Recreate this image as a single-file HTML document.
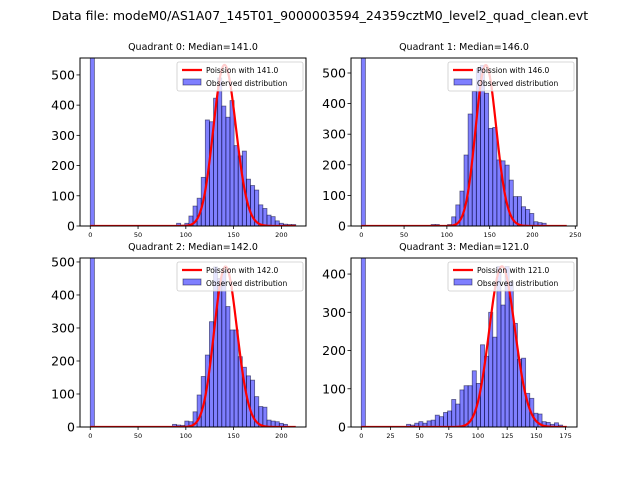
<!DOCTYPE html>
<html><head><meta charset="utf-8"><style>
body{margin:0;background:#fff}
svg{display:block;font-family:"DejaVu Sans","Liberation Sans",sans-serif}
</style></head><body>
<svg id="fig" width="640" height="480" viewBox="0 0 640 480" xmlns="http://www.w3.org/2000/svg">
<rect width="640" height="480" fill="#fff"/>
<text x="320" y="20" font-size="12.5" text-anchor="middle">Data file: modeM0/AS1A07_145T01_9000003594_24359cztM0_level2_quad_clean.evt</text>
</svg>
<script>
// ---- data ----
const quadTitles = ["Quadrant 0: Median=141.0","Quadrant 1: Median=146.0","Quadrant 2: Median=142.0","Quadrant 3: Median=121.0"];
const medians = [141.0, 146.0, 142.0, 121.0];
const dataMax = [215, 240, 215, 176];
const yMaxLim = [556, 549, 512, 442];
const poissonPeak = [533, 526, 486, 420];
const xTicks0 = [0,50,100,150,200];
const xTicks1 = [0,50,100,150,200,250];
const xTicks2 = [0,50,100,150,200];
const xTicks3 = [0,25,50,75,100,125,150,175];
const yTicks0 = [0,100,200,300,400,500];
const yTicks1 = [0,100,200,300,400,500];
const yTicks2 = [0,100,200,300,400,500];
const yTicks3 = [0,100,200,300,400];
// counts per bin (50 bins from 0 to dataMax), bin 0 is clipped tall bar
const counts0 = [5000,0,0,0,0,0,0,0,0,0,0,0,0,0,0,0,0,0,0,0,0,9,3,9,33,66,92,161,351,345,423,490,397,360,415,266,232,248,155,134,119,70,58,36,31,17,9,6,5,5];
const counts1 = [5000,0,0,0,0,0,0,0,0,0,0,0,0,0,0,0,0,5,5,0,0,5,30,69,114,232,366,440,515,525,434,319,322,216,213,199,150,96,96,63,54,41,14,11,9,0,0,0,0,0];
const counts2 = [5000,0,0,0,0,0,0,0,0,0,0,0,0,0,0,0,0,0,0,0,8,6,5,18,16,46,97,153,218,319,485,450,475,365,294,294,213,181,155,142,92,62,60,21,18,16,11,8,0,0];
const counts3 = [5000,0,0,0,0,0,0,0,0,0,0,7,5,10,14,10,16,18,31,27,38,42,72,60,97,108,108,147,114,215,185,300,235,420,319,420,380,271,177,180,88,75,36,34,14,12,7,11,5,0];

const NS="http://www.w3.org/2000/svg";
const svg=document.getElementById('fig');
function mk(tag,attrs,parent){const e=document.createElementNS(NS,tag);for(const k in attrs)e.setAttribute(k,attrs[k]);(parent||svg).appendChild(e);return e;}

const boxes=[{l:80,r:306,t:58,b:226},{l:351,r:577,t:58,b:226},{l:80,r:306,t:258,b:427},{l:351,r:577,t:258,b:427}];
const allCounts=[counts0,counts1,counts2,counts3];
const allXT=[xTicks0,xTicks1,xTicks2,xTicks3];
const allYT=[yTicks0,yTicks1,yTicks2,yTicks3];

function poissonShape(mu,k){
  let lg=0; for(let i=2;i<=k;i++) lg+=Math.log(i);
  return Math.exp(k*Math.log(mu)-mu-lg);
}

for(let q=0;q<4;q++){
  const B=boxes[q], M=dataMax[q], counts=allCounts[q];
  const x0=-0.05*M, x1=1.05*M;
  const sx=v=>B.l+(v-x0)/(x1-x0)*(B.r-B.l);
  const sy=v=>B.b-v/yMaxLim[q]*(B.b-B.t);
  const g=mk('g',{});
  
  
  const cid='clip'+q;
  const cp=mk('clipPath',{id:cid},g); mk('rect',{x:B.l,y:B.t,width:B.r-B.l,height:B.b-B.t},cp);
  const plot=mk('g',{'clip-path':'url(#'+cid+')'},g);
  const bw=M/counts.length;
  counts.forEach((c,i)=>{
    if(c<=0) return;
    const r=mk('rect',{x:sx(i*bw),y:sy(c),width:sx((i+1)*bw)-sx(i*bw),height:sy(0)-sy(c),fill:'rgba(0,0,255,0.5)',stroke:'rgba(0,0,40,0.55)','stroke-width':0.8},plot);
    
    
  });
  const mu=medians[q]; const pk=poissonShape(mu,Math.floor(mu));
  let d='';
  for(let k=0;k<=M;k++){const v=poissonShape(mu,k)/pk*poissonPeak[q];d+=(k?'L':'M')+sx(k).toFixed(2)+','+sy(v).toFixed(2);}
  const pl=mk('path',{d:d,fill:'none',stroke:'#ff0000','stroke-width':2.2,'stroke-linejoin':'round'},plot);
  
  
  const fr=mk('rect',{x:B.l,y:B.t,width:B.r-B.l,height:B.b-B.t,fill:'none',stroke:'#000','stroke-width':1},g);
  
  
  allXT[q].forEach(t=>{
    const x=sx(t);
    mk('line',{x1:x,x2:x,y1:B.b,y2:B.b+3,stroke:'#000','stroke-width':0.8},g);
    const tx=mk('text',{x:x,y:B.b+11,'font-size':6.5,'text-anchor':'middle'},g);
    tx.textContent=t;
    
    
  });
  allYT[q].forEach(t=>{
    const y=sy(t);
    mk('line',{x1:B.l-3.5,x2:B.l,y1:y,y2:y,stroke:'#000','stroke-width':0.8},g);
    const tx=mk('text',{x:B.l-5,y:y+4.5,'font-size':12.5,'text-anchor':'end'},g);
    tx.textContent=t;
    
    
  });
  const ti=mk('text',{x:(B.l+B.r)/2,y:B.t-8,'font-size':9.5,'text-anchor':'middle'},g);
  ti.textContent=quadTitles[q];
  
  
  const lg=mk('g',{},g);
  
  
  const lx=B.r-129, ly=B.t+4;
  mk('rect',{x:lx,y:ly,width:126,height:29,rx:2,fill:'rgba(255,255,255,0.8)',stroke:'#ccc','stroke-width':0.8},lg);
  mk('line',{x1:lx+5,x2:lx+25,y1:ly+8,y2:ly+8,stroke:'#ff0000','stroke-width':2.2},lg);
  const t1=mk('text',{x:lx+29,y:ly+11,'font-size':7.5},lg);
  t1.textContent='Poission with '+medians[q].toFixed(1);
  
  
  mk('rect',{x:lx+6,y:ly+17,width:18,height:6,fill:'rgba(0,0,255,0.5)',stroke:'rgba(0,0,40,0.55)','stroke-width':0.8},lg);
  const t2=mk('text',{x:lx+29,y:ly+24,'font-size':7.5},lg);
  t2.textContent='Observed distribution';
  
  
}
</script>
</body></html>
